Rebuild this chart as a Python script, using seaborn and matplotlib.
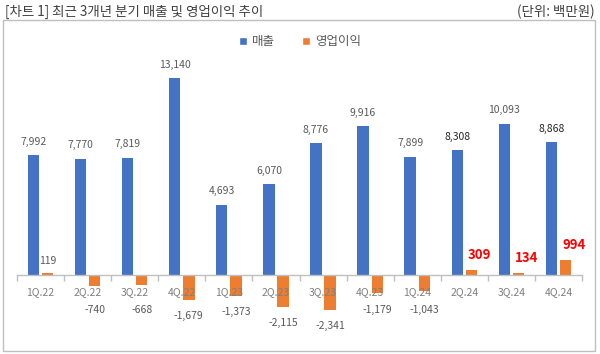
import matplotlib
matplotlib.use("Agg")
import matplotlib.pyplot as plt
from matplotlib.patches import Rectangle, Patch
import seaborn as sns
import pandas as pd

# ---- data ----
quarters = ["1Q.22", "2Q.22", "3Q.22", "4Q.22", "1Q.23", "2Q.23",
            "3Q.23", "4Q.23", "1Q.24", "2Q.24", "3Q.24", "4Q.24"]
sales = [7992, 7770, 7819, 13140, 4693, 6070, 8776, 9916, 7899, 8308, 10093, 8868]
op_income = [119, -740, -668, -1679, -1373, -2115, -2341, -1179, -1043, 309, 134, 994]
series_names = ["매출", "영업이익"]
dark_labels = ["2Q.24", "4Q.24"]
title = "[차트 1] 최근 3개년 분기 매출 및 영업이익 추이"
unit = "(단위: 백만원)"

BLUE = "#4472C4"
ORANGE = "#ED7D31"
GREY = "#595959"

sns.set_theme(style="white")
plt.rcParams["font.family"] = ["Noto Sans CJK KR", "DejaVu Sans"]

df = pd.DataFrame({
    "quarter": quarters * 2,
    "value": sales + op_income,
    "series": [series_names[0]] * len(quarters) + [series_names[1]] * len(quarters),
})

fig = plt.figure(figsize=(6, 3.54), dpi=100)
ax = fig.add_axes([17 / 600, 14 / 354, 565 / 600, 280 / 354])

sns.barplot(data=df, x="quarter", y="value", hue="series",
            palette=[BLUE, ORANGE], width=0.6, gap=0.2, ax=ax,
            legend=False, saturation=1, linewidth=0)

ax.set_axisbelow(False)
ax.xaxis.set_zorder(5)
ax.set_ylim(-4336, 14340)
ax.set_xlim(-0.5, len(quarters) - 0.5)
ax.set_xlabel("")
ax.set_ylabel("")
ax.set_yticks([])
for s in ["top", "right", "left"]:
    ax.spines[s].set_visible(False)
ax.spines["bottom"].set_position(("data", 0))
ax.spines["bottom"].set_color("#BFBFBF")
ax.spines["bottom"].set_linewidth(1)
ax.set_xticks(range(len(quarters)))
ax.set_xticklabels(quarters)
ax.set_xticks([i - 0.5 for i in range(len(quarters) + 1)], minor=True)
ax.tick_params(axis="x", which="major", length=0, pad=9, labelsize=7.5,
               labelcolor="#7F7F7F")
ax.tick_params(axis="x", which="minor", length=4, color="#BFBFBF", width=1,
               bottom=True)

# labels for sales
for i, v in enumerate(sales):
    color = "#262626" if quarters[i] in dark_labels else GREY
    ax.annotate(f"{v:,}", (i - 0.15, v), xytext=(0, 6), textcoords="offset points",
                ha="center", va="bottom", fontsize=7.5, color=color)

# labels for operating income
for i, v in enumerate(op_income):
    x = i + 0.15
    if v >= 0:
        if quarters[i].endswith(".24"):
            ax.annotate(f"{v:,}", (x, v), xytext=(6, 6), textcoords="offset points",
                        ha="center", va="bottom", fontsize=9.5, color="#FF0000",
                        fontweight="bold")
        else:
            ax.annotate(f"{v:,}", (x, v), xytext=(0, 5), textcoords="offset points",
                        ha="center", va="bottom", fontsize=7.5, color=GREY)
    else:
        y = min(v, -1250)
        ax.annotate(f"{v:,}", (x, y), xytext=(0, -8), textcoords="offset points",
                    ha="center", va="top", fontsize=7.5, color=GREY)

# title / unit
fig.text(5 / 600, 1 - 12 / 354, title, ha="left", va="center", fontsize=9.7, color="#404040")
fig.text(595 / 600, 1 - 12 / 354, unit, ha="right", va="center", fontsize=9.7, color="#404040")

# border
fig.patches.append(Rectangle((3 / 600, 3 / 354), 592 / 600, 331 / 354,
                             transform=fig.transFigure, fill=False,
                             edgecolor="#BFBFBF", linewidth=1))

handles = [Patch(facecolor=BLUE, label=series_names[0]),
           Patch(facecolor=ORANGE, label=series_names[1])]
fig.legend(handles=handles, loc="center", bbox_to_anchor=(0.5, 1 - 42 / 354),
           ncol=2, frameon=False, fontsize=9, handlelength=0.6, handleheight=0.6,
           handletextpad=0.4, columnspacing=2.2, labelcolor="#595959")

fig.savefig("out.png", dpi=100)
